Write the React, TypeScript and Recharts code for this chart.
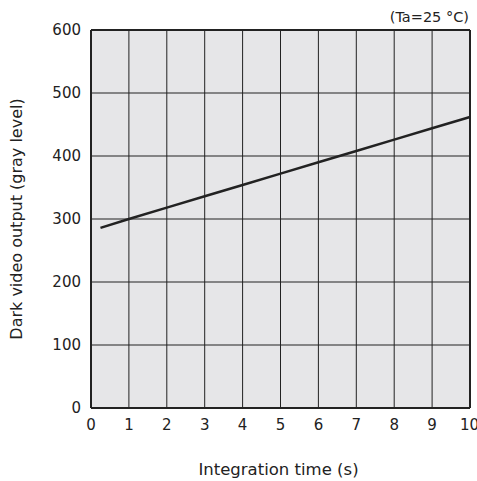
import { LineChart, Line, XAxis, YAxis, CartesianGrid, ReferenceLine } from 'recharts';

// Integration time (s) vs dark output (gray level)
const integrationTime = [0.25, 1, 2, 3, 4, 5, 6, 7, 8, 9, 10];
const darkOutput = [286, 300, 318, 336, 354, 372, 390, 408, 426, 444, 462];
const xTicks = [0, 1, 2, 3, 4, 5, 6, 7, 8, 9, 10];
const yTicks = [0, 100, 200, 300, 400, 500, 600];

const data = integrationTime.map((t, i) => ({ t, v: darkOutput[i] }));

const font = '"DejaVu Sans", Verdana, sans-serif';
const ink = '#222222';

export default function App() {
    return (
        <div style={{ position: 'absolute', left: 0, top: 0, width: 477, height: 481, background: '#fff', fontFamily: font }}>
            <LineChart width={477} height={481} data={data} margin={{ top: 30, right: 7, left: 0, bottom: 0 }}>
                <CartesianGrid stroke={ink} strokeWidth={1} fill="#e6e6e8" fillOpacity={1} />
                <XAxis
                    dataKey="t"
                    type="number"
                    domain={[0, 10]}
                    ticks={xTicks}
                    tickLine={false}
                    axisLine={{ stroke: ink, strokeWidth: 2 }}
                    tick={{ fill: ink, fontSize: 15, fontFamily: font }}
                    tickMargin={5}
                    height={73}
                    label={{ value: 'Integration time (s)', position: 'insideBottom', offset: 6, fill: ink, fontSize: 16.5, fontFamily: font, dx: -2 }}
                />
                <YAxis
                    type="number"
                    domain={[0, 600]}
                    ticks={yTicks}
                    tickLine={false}
                    axisLine={{ stroke: ink, strokeWidth: 2 }}
                    tick={{ fill: ink, fontSize: 15, fontFamily: font }}
                    tickMargin={4}
                    width={91}
                    label={{ value: 'Dark video output (gray level)', angle: -90, position: 'insideLeft', offset: 16, fill: ink, fontSize: 16, fontFamily: font, style: { textAnchor: 'middle' } }}
                />
                <ReferenceLine y={600} stroke={ink} strokeWidth={2} />
                <ReferenceLine x={10} stroke={ink} strokeWidth={2} />
                <Line
                    type="linear"
                    dataKey="v"
                    stroke={ink}
                    strokeWidth={2.5}
                    dot={false}
                    isAnimationActive={false}
                />
                <text x={469} y={22} textAnchor="end" fill={ink} fontSize={14.5} fontFamily={font}>
                    (Ta=25 °C)
                </text>
            </LineChart>
        </div>
    );
}
